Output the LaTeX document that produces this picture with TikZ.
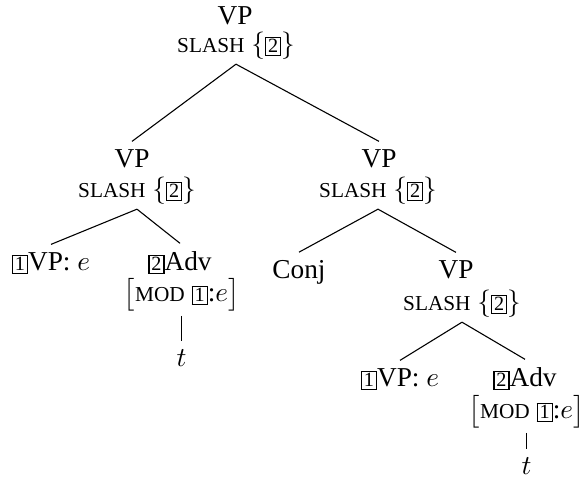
\documentclass[tikz,border=0pt]{standalone}
\usepackage{fontspec}
\setmainfont{Liberation Serif}
\newcommand\fsc[1]{{\fontsize{7.8}{9}\selectfont #1}}
\newcommand\tagbox[1]{{\setlength\fboxsep{0.7pt}\setlength\fboxrule{0.4pt}\fbox{\fontsize{7.4}{9}\selectfont #1}}}
\newcommand\slashset{\fsc{SLASH} $\{$\tagbox{2}$\}$}
\newcommand\modset{$\bigl[$\fsc{MOD} \tagbox{1}:$e\bigr]$}
\begin{document}
\begin{tikzpicture}[x=0.3663pt,y=-0.3663pt,
  lbl/.style={anchor=base,inner sep=0pt,outer sep=0pt,font=\fontsize{10}{12}\selectfont},
  top/.style={lbl,outer sep=3.2pt},
  bot/.style={lbl,outer sep=1.6pt},
  edge/.style={line width=0.4pt}]
\useasboundingbox (0,0) rectangle (584,477);
% root
\node[top] (r)  at (235,25) {VP};
\node[bot] (rs) at (236,53) {\slashset};
% left VP
\node[top] (l)  at (132,168) {VP};
\node[bot] (ls) at (137,198) {\slashset};
\node[top] (la) at (51,271) {\tagbox{1}VP: $e$};
\node[top] (lb) at (180,271) {\tagbox{2}Adv};
\node[bot] (lm) at (181.6,302) {\modset};
\node[top] (lt) at (181.6,367) {$t$};
% right VP
\node[top] (rr)  at (379,168) {VP};
\node[bot] (rrs) at (378,198) {\slashset};
\node[top] (c)   at (299,279) {Conj};
\node[top] (v)   at (456,279) {VP};
\node[bot] (vs)  at (462,311) {\slashset};
\node[top] (va)  at (400,387) {\tagbox{1}VP: $e$};
\node[top] (vb)  at (525,387) {\tagbox{2}Adv};
\node[bot] (vm)  at (526.6,419) {\modset};
\node[top] (vt)  at (526.6,475) {$t$};
% edges
\draw[edge] (rs.south) -- (l.north);
\draw[edge] (rs.south) -- (rr.north);
\draw[edge] (ls.south) -- (la.north);
\draw[edge] (ls.south) -- (lb.north);
\draw[edge] (lm.south) -- (lt.north);
\draw[edge] (rrs.south) -- (c.north);
\draw[edge] (rrs.south) -- (v.north);
\draw[edge] (vs.south) -- (va.north);
\draw[edge] (vs.south) -- (vb.north);
\draw[edge] (vm.south) -- (vt.north);
\end{tikzpicture}
\end{document}
